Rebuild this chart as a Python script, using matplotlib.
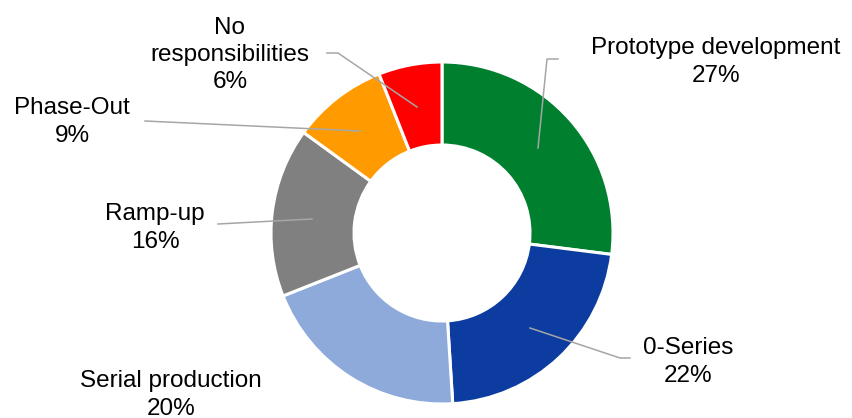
import matplotlib.pyplot as plt

plt.rcParams['font.family'] = ['Liberation Sans', 'DejaVu Sans']

phases = ['Prototype development', '0-Series', 'Serial production',
          'Ramp-up', 'Phase-Out', 'No\nresponsibilities']
shares = [27, 22, 20, 16, 9, 6]
colors = ['#00802F', '#0C3C9F', '#8EAADB', '#808080', '#FF9B00', '#FF0000']

# label placement (pixels, y up) and leader line anchors inside each wedge
label_pos = [(716, 356), (688, 56), (171, 23), (155, 190), (72, 296), (230, 363)]
anchor = [(538, 270), (530, 90), None, (312, 199), (360, 287), (417, 311)]
elbow = [[(547, 359), (558, 359)], [(620, 60), (630, 60)], None,
         [(218, 194)], [(145, 297)], [(338, 365), (327, 365)]]

fig = plt.figure(figsize=(8.53, 4.18), dpi=100)
ax = fig.add_axes([0, 0, 1, 1])

cx, cy, R = 442, 185, 171
ax.pie(shares, colors=colors, startangle=90, counterclock=False,
       center=(cx, cy), radius=R, frame=True,
       wedgeprops=dict(width=83, edgecolor='white', linewidth=2.2))
ax.set_xlim(0, 853)
ax.set_ylim(0, 418)
ax.set_aspect('equal')
ax.axis('off')

for name, val, pos, a, e in zip(phases, shares, label_pos, anchor, elbow):
    if a is not None:
        pts = [a] + e
        ax.plot([p[0] for p in pts], [p[1] for p in pts],
                color='#A6A6A6', lw=1.1, zorder=3)
    ax.text(pos[0], pos[1], f'{name}\n{val}%', ha='center', va='center',
            fontsize=17.5, linespacing=1.3, color='black')

fig.savefig('out.png', dpi=100)
